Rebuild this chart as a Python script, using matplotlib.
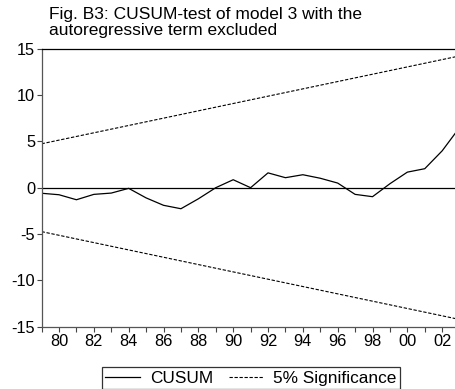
import matplotlib
matplotlib.use("Agg")
import matplotlib.pyplot as plt
from matplotlib.lines import Line2D

years = list(range(1979, 2004))
cusum = [-0.6, -0.76, -1.3, -0.72, -0.58, -0.07, -1.1, -1.9, -2.27, -1.2,
         0.0, 0.86, 0.0, 1.6, 1.08, 1.4, 1.02, 0.5, -0.72, -0.97,
         0.43, 1.68, 2.05, 3.98, 6.5]
bound_years = [1979, 2003]
upper = [4.74, 14.22]
lower = [-4.74, -14.22]
xtick_years = list(range(1980, 2003, 2))
xtick_labels = ["80", "82", "84", "86", "88", "90", "92", "94", "96", "98", "00", "02"]
yticks = [-15, -10, -5, 0, 5, 10, 15]
title = "Fig. B3: CUSUM-test of model 3 with the\nautoregressive term excluded"

plt.rcParams['font.family'] = ['Liberation Sans', 'DejaVu Sans']
W, H = 456, 389
fig = plt.figure(figsize=(W / 100, H / 100), dpi=100)
left, right, top, bottom = 41.6, 459.6, 48.7, 326.7
ax = fig.add_axes([left / W, 1 - bottom / H, (right - left) / W, (bottom - top) / H])

ax.plot(years, cusum, color='black', lw=0.9)
ax.plot(bound_years, upper, color='black', lw=0.8, ls=(0, (3, 1.5)))
ax.plot(bound_years, lower, color='black', lw=0.8, ls=(0, (3, 1.5)))
ax.axhline(0, color='black', lw=0.9)

ax.set_xlim(1979, 2003)
ax.set_ylim(-15, 15)
ax.set_yticks(yticks)
ax.set_yticklabels([str(v) for v in yticks], fontsize=11.8)
ax.set_xticks(xtick_years)
ax.set_xticklabels(xtick_labels, fontsize=11.8)
ax.set_xticks(years, minor=True)
ax.tick_params(axis='both', which='both', direction='out', length=3.5, width=0.8, color='#444444', pad=2)
ax.tick_params(axis='y', pad=1)
for s in ['left', 'bottom']:
    ax.spines[s].set_color('#555555')
    ax.spines[s].set_linewidth(0.9)
ax.spines['top'].set_color('black')
ax.spines['top'].set_linewidth(0.9)
ax.spines['right'].set_visible(False)

fig.text(49 / W, 1 - 7 / H, title, fontsize=12.5, va='top', ha='left', linespacing=1.12)

handles = [Line2D([], [], color='black', lw=0.9),
           Line2D([], [], color='black', lw=0.8, ls=(0, (3, 1.5)))]
leg = fig.legend(handles, ['CUSUM', '5% Significance'], loc='center',
                 bbox_to_anchor=(251 / W, 1 - 378 / H), ncol=2, fontsize=12.4,
                 frameon=True, fancybox=False, edgecolor='black', handlelength=2.0,
                 handletextpad=0.6, columnspacing=0.9, borderpad=0.2, borderaxespad=0)
leg.get_frame().set_linewidth(0.9)

fig.savefig('out.png', dpi=100)
